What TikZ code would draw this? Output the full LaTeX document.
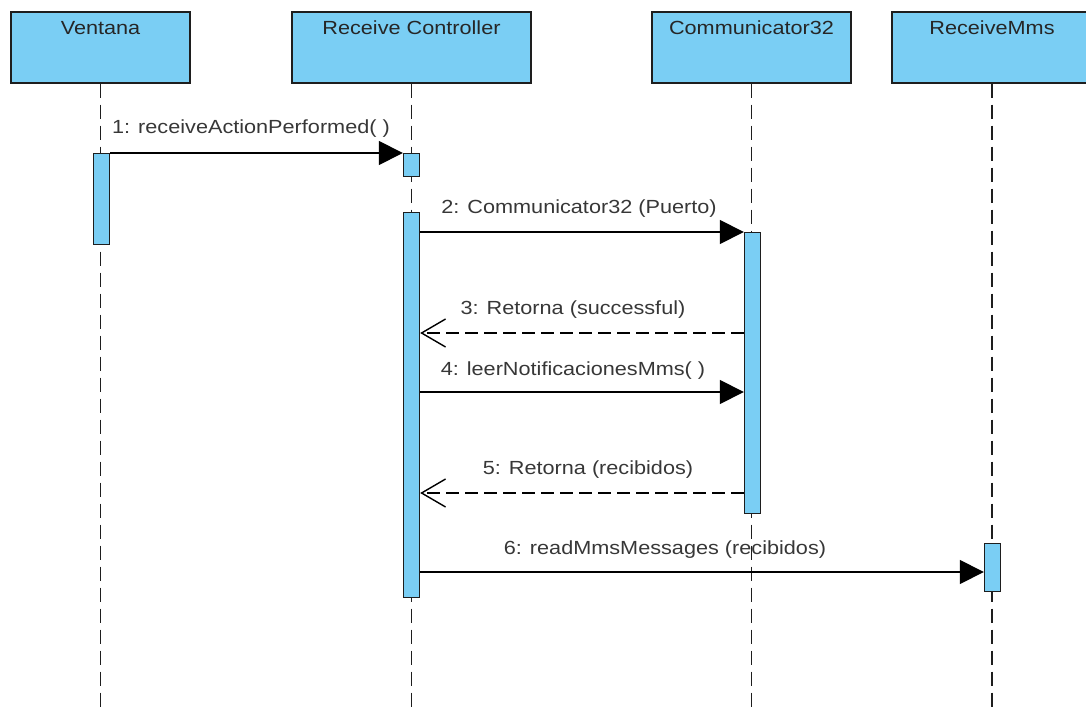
\documentclass[tikz,border=0pt]{standalone}
\usepackage{fontspec}
\setmainfont{Liberation Sans}
\usetikzlibrary{arrows.meta}
\definecolor{lifefill}{RGB}{122,206,244}
\definecolor{edge}{RGB}{30,30,30}
\definecolor{txt}{RGB}{55,55,55}
\tikzset{
  head/.style={draw=edge, line width=1.6pt, fill=lifefill, minimum height=71pt,
    inner ysep=0pt, text height=23pt, text depth=48pt, anchor=north,
    font=\fontsize{19}{22}\selectfont, text=black!85},
  lifeline/.style={draw=edge, line width=1.2pt, dash pattern=on 14pt off 7pt},
  actbar/.style={draw=edge, line width=1.4pt, fill=lifefill, minimum width=16pt,
    inner sep=0pt, anchor=north},
  call/.style={draw=black, line width=1.5pt, -{Triangle[length=24pt,width=24pt]}},
  reply/.style={draw=black, line width=1.5pt, dash pattern=on 13pt off 6pt,
    -{Straight Barb[length=24pt,width=28pt,line width=1.4pt]}},
  msglabel/.style={font=\fontsize{19}{22}\selectfont, text=txt, xscale=1.14,
    inner sep=0pt, anchor=base}
}
\begin{document}
\begin{tikzpicture}[x=1pt, y=-1pt]
\useasboundingbox (0,0) rectangle (1086,711);
\clip (0,0) rectangle (1086,711);

% lifeline heads
\node[head, minimum width=179pt] (ven) at (100.5,11) {\scalebox{1.14}[1]{Ventana}};
\node[head, minimum width=239pt] (rc)  at (411.5,11) {\scalebox{1.14}[1]{Receive Controller}};
\node[head, minimum width=199pt] (com) at (751.5,11) {\scalebox{1.14}[1]{Communicator32}};
\node[head, minimum width=200pt] (mms) at (992,11)   {\scalebox{1.14}[1]{ReceiveMms}};

% bottom ends of the lifelines
\coordinate (bot) at (0,711);
\draw[lifeline] (ven.south) -- (ven.south |- bot);
\draw[lifeline] (rc.south)  -- (rc.south |- bot);
\draw[lifeline] (com.south) -- (com.south |- bot);
\draw[lifeline] (mms.south) -- (mms.south |- bot);

% activation bars
\node[actbar, minimum height=91pt]  (venA) at (101.5,153) {};
\node[actbar, minimum height=23pt]  (rcA)  at (411.5,153) {};
\node[actbar, minimum height=385pt] (rcB)  at (411.5,212) {};
\node[actbar, minimum height=281pt] (comA) at (752.5,232) {};
\node[actbar, minimum height=48pt]  (mmsA) at (992.5,543) {};

% message rows
\coordinate (y3) at (0,333);
\coordinate (y4) at (0,392);
\coordinate (y5) at (0,493);
\coordinate (y6) at (0,572);

% messages
\draw[call]  (venA.north east) -- (rcA.north west);
\draw[call]  (rcB.east |- comA.north) -- (comA.north west);
\draw[reply] (comA.west |- y3) -- (rcB.east |- y3);
\draw[call]  (rcB.east |- y4) -- (comA.west |- y4);
\draw[reply] (comA.west |- y5) -- (rcB.east |- y5);
\draw[call]  (rcB.east |- y6) -- (mmsA.west |- y6);

% message labels
\node[msglabel] (l1) at (251,134) {1: receiveActionPerformed( )};
\node[msglabel] (l2) at (579,214) {2: Communicator32 (Puerto)};
\node[msglabel] (l3) at (573,314) {3: Retorna (successful)};
\node[msglabel] (l4) at (573,375) {4: leerNotificacionesMms( )};
\node[msglabel] (l5) at (588,474) {5: Retorna (recibidos)};
\node[msglabel] (l6) at (665,554) {6: readMmsMessages (recibidos)};
\end{tikzpicture}
\end{document}
